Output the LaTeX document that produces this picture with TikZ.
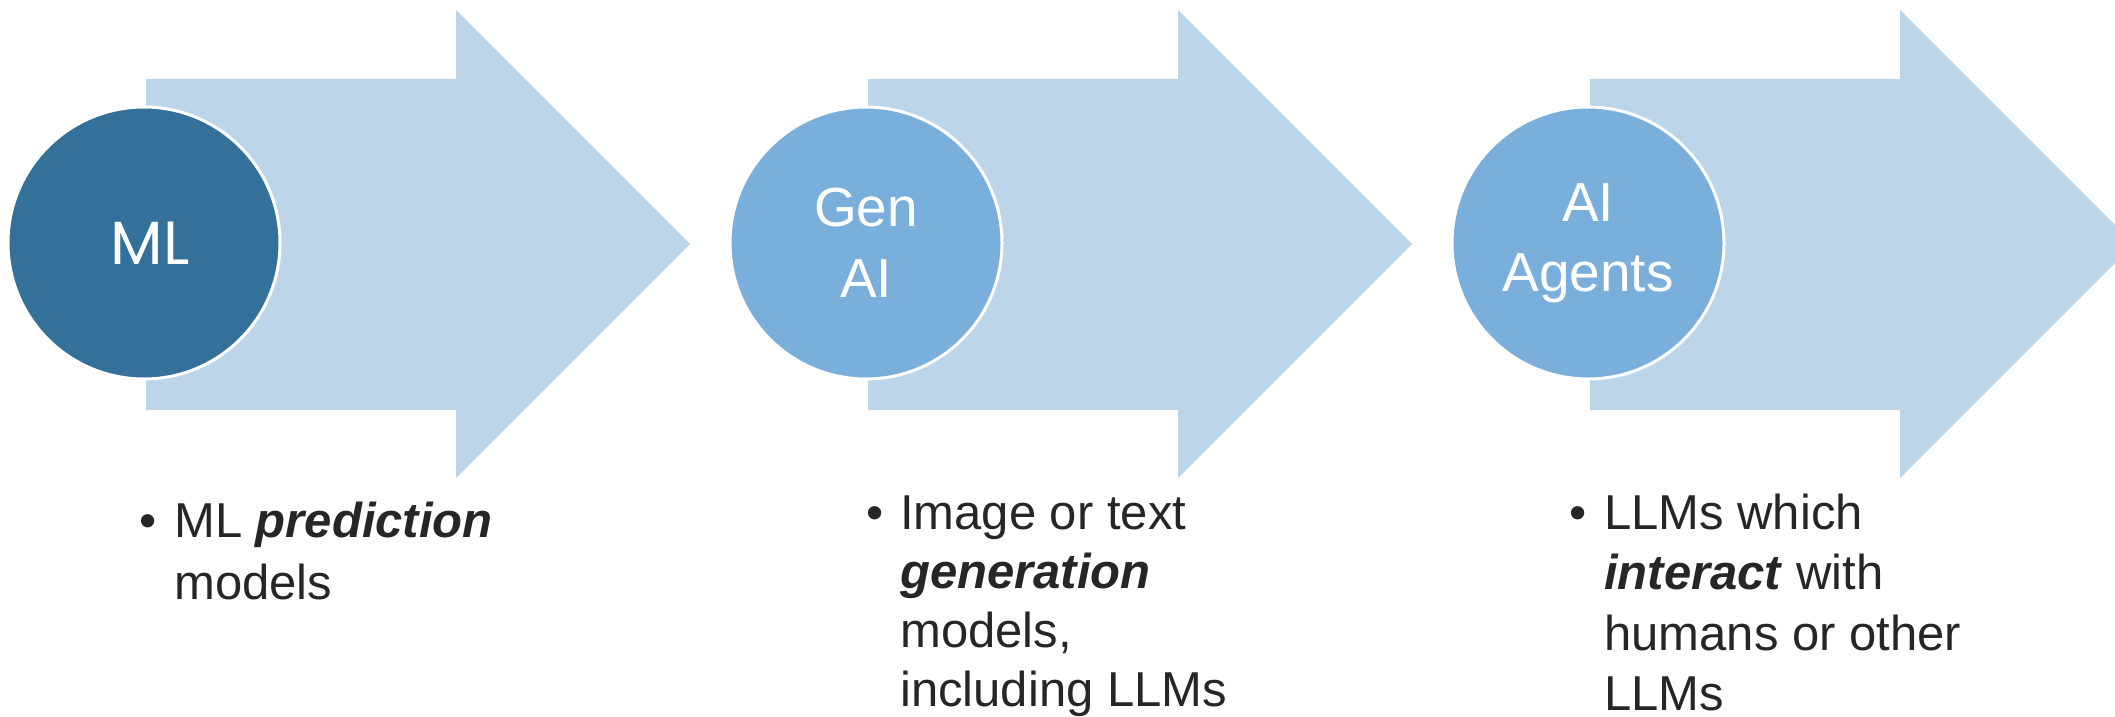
\documentclass[tikz,border=0pt]{standalone}
\usepackage{fontspec}
\setmainfont{Liberation Sans}
\newfontfamily\popfont{Poppins}
\definecolor{arrowfill}{HTML}{BDD5E9}
\definecolor{mlfill}{HTML}{33719A}
\definecolor{aifill}{HTML}{7AAFDC}
\definecolor{bodytext}{HTML}{262626}
\begin{document}
\begin{tikzpicture}[x=1pt,y=-1pt,
  chevron/.style={fill=arrowfill},
  stage/.style={circle, minimum size=272pt, inner sep=0pt, draw=white,
    line width=3pt, text=white, align=center},
  stagefont/.style={font=\fontsize{55}{71}\selectfont},
  itemtext/.style={anchor=base west, inner sep=0pt, text=bodytext},
  itemdot/.style={anchor=base, inner sep=0pt, text=bodytext,
    font=\fontsize{49}{59}\selectfont}]
\useasboundingbox (0,0) rectangle (2115,717);
\begin{scope}
\clip (0,0) rectangle (2115,717);
% three wide chevron arrows, one behind each stage circle
\foreach \cx in {144,866,1588} {
  \fill[chevron] (\cx+2,79) -- (\cx+312,79) -- (\cx+312,10) -- (\cx+546,244)
    -- (\cx+312,478) -- (\cx+312,410) -- (\cx+2,410) -- cycle;
}
\end{scope}

% stage circles
\node[stage, fill=mlfill, font=\popfont\fontsize{61}{70}\selectfont] (ml) at (144,243) {\hspace*{12pt}ML};
\node[stage, fill=aifill, stagefont] (gen) at (866,243) {Gen\\AI};
\node[stage, fill=aifill, stagefont] (agents) at (1588,243) {\raisebox{-4pt}{AI}\\\raisebox{-3pt}{Agents}};

% bullet points under each stage
\node[itemdot] (dot1) at (148,537) {\textbullet};
\node[itemtext, font=\fontsize{49}{62}\selectfont] (item1) at (174,537)
  {\vtop{\hbox{ML \textbf{\textit{prediction}}}\hbox{models}}};

\node[itemdot] (dot2) at (875,529) {\textbullet};
\node[itemtext, font=\fontsize{49}{59.3}\selectfont] (item2) at (900,529)
  {\vtop{\hbox{Image or text}\hbox{\textbf{\textit{generation}}}\hbox{models,}\hbox{including LLMs}}};

\node[itemdot] (dot3) at (1578,529) {\textbullet};
\node[itemtext, font=\fontsize{49}{60.5}\selectfont] (item3) at (1604,529)
  {\vtop{\hbox{LLMs which}\hbox{\textbf{\textit{interact}} with}\hbox{humans or other}\hbox{LLMs}}};
\end{tikzpicture}
\end{document}
